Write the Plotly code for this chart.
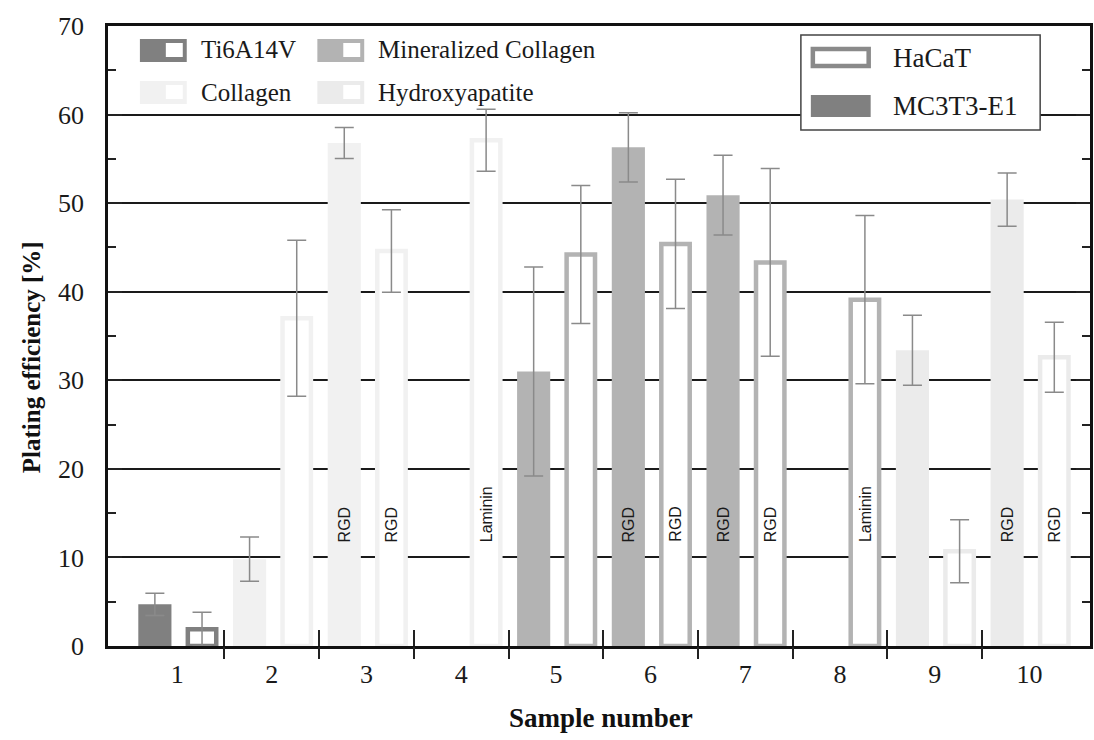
import plotly.graph_objects as go

# ---------------- data ----------------
samples = [1, 2, 3, 4, 5, 6, 7, 8, 9, 10]
sample_labels = ["1", "2", "3", "4", "5", "6", "7", "8", "9", "10"]
materials = ["Ti6A14V", "Collagen", "Collagen", "Collagen",
             "Mineralized Collagen", "Mineralized Collagen",
             "Mineralized Collagen", "Mineralized Collagen",
             "Hydroxyapatite", "Hydroxyapatite"]
mc3t3_values = [4.7, 9.8, 56.8, None, 31.0, 56.3, 50.9, None, 33.4, 50.4]
mc3t3_errors = [1.25, 2.5, 1.75, None, 11.8, 3.9, 4.5, None, 3.95, 3.0]
hacat_values = [1.9, 37.0, 44.6, 57.1, 44.2, 45.4, 43.3, 39.1, 10.7, 32.6]
hacat_errors = [1.9, 8.8, 4.65, 3.5, 7.8, 7.3, 10.6, 9.5, 3.55, 3.95]
mc3t3_tags = ["", "", "RGD", "", "", "RGD", "RGD", "", "", "RGD"]
hacat_tags = ["", "", "RGD", "Laminin", "", "RGD", "RGD", "Laminin", "", "RGD"]
legend_materials = ["Ti6A14V", "Mineralized Collagen", "Collagen", "Hydroxyapatite"]
cell_lines = ["HaCaT", "MC3T3-E1"]
x_title = "Sample number"
y_title = "Plating efficiency [%]"

# ---------------- styles ----------------
material_colors = {"Ti6A14V": "#808080", "Collagen": "#f1f1f1",
                   "Mineralized Collagen": "#b3b3b3", "Hydroxyapatite": "#ebebeb"}
SERIF = "Liberation Serif"
SANS = "Liberation Sans"
ERR_COLOR = "#8a8a8a"
FILL_OFFSET, FILL_WIDTH = -0.41, 0.35
HOLLOW_OFFSET, HOLLOW_WIDTH, HOLLOW_LINE = 0.113, 0.30, 4.5
X_RANGE = [0.27, 10.64]

# plot area in pixels (for legend decoration placement)
W, H = 1094, 740
PL, PR, PT, PB = 108, 1093, 26, 646


def px(xp):
    return (xp - PL) / (PR - PL)


def py(yp):
    return (PB - yp) / (PB - PT)


colors = [material_colors[m] for m in materials]

fig = go.Figure()
fig.add_trace(go.Bar(
    name=cell_lines[1], x=samples, y=mc3t3_values,
    offset=FILL_OFFSET, width=FILL_WIDTH,
    marker=dict(color=colors, line=dict(width=0)),
    error_y=dict(type="data", array=mc3t3_errors, color=ERR_COLOR,
                 thickness=1.5, width=9.5),
    showlegend=False, hoverinfo="x+y"))
fig.add_trace(go.Bar(
    name=cell_lines[0], x=samples, y=hacat_values,
    offset=HOLLOW_OFFSET, width=HOLLOW_WIDTH,
    marker=dict(color="white", line=dict(color=colors, width=HOLLOW_LINE)),
    error_y=dict(type="data", array=hacat_errors, color=ERR_COLOR,
                 thickness=1.5, width=9.5),
    showlegend=False, hoverinfo="x+y"))
# carrier for the outer half of the category-boundary ticks
fig.add_trace(go.Scatter(x=[], y=[], xaxis="x2", yaxis="y",
                         showlegend=False, hoverinfo="skip"))

# tags written inside bars
annotations = []
for s, tag in zip(samples, mc3t3_tags):
    if tag:
        annotations.append(dict(
            x=s + FILL_OFFSET + FILL_WIDTH / 2, y=11.5, xref="x", yref="y",
            text=tag, textangle=-90, showarrow=False,
            xanchor="center", yanchor="bottom",
            font=dict(family=SANS, size=16, color="#1a1a1a")))
for s, tag in zip(samples, hacat_tags):
    if tag:
        annotations.append(dict(
            x=s + HOLLOW_OFFSET + HOLLOW_WIDTH / 2, y=11.5, xref="x", yref="y",
            text=tag, textangle=-90, showarrow=False,
            xanchor="center", yanchor="bottom",
            font=dict(family=SANS, size=16, color="#1a1a1a")))

# axis titles
annotations.append(dict(x=px(603), y=py(718), xref="paper", yref="paper",
                        text="<b>" + x_title + "</b>", showarrow=False,
                        xanchor="center", yanchor="middle",
                        font=dict(family=SERIF, size=27, color="#111111")))
annotations.append(dict(x=px(31), y=py(357), xref="paper", yref="paper",
                        text="<b>" + y_title + "</b>", showarrow=False, textangle=-90,
                        xanchor="center", yanchor="middle",
                        font=dict(family=SERIF, size=25, color="#111111")))

shapes = []
# material legend (top left): half filled / half hollow swatches
mat_slots = [(140, 39), (318, 39), (140, 81), (318, 81)]
for name, (sx, sy) in zip(legend_materials, mat_slots):
    c = material_colors[name]
    shapes.append(dict(type="rect", xref="paper", yref="paper",
                       x0=px(sx), x1=px(sx + 47), y0=py(sy), y1=py(sy + 23),
                       fillcolor=c, line=dict(width=0), layer="above"))
    shapes.append(dict(type="rect", xref="paper", yref="paper",
                       x0=px(sx + 26), x1=px(sx + 43), y0=py(sy + 4), y1=py(sy + 18),
                       fillcolor="white", line=dict(width=0), layer="above"))
    annotations.append(dict(x=px(sx + 59), y=py(sy + 11), xref="paper", yref="paper",
                            text=name, showarrow=False, xanchor="left", yanchor="middle",
                            font=dict(family=SERIF, size=25, color="#1a1a1a")))

# cell line legend (boxed, top right)
shapes.append(dict(type="rect", xref="paper", yref="paper",
                   x0=px(803), x1=px(1043), y0=py(35), y1=py(130),
                   fillcolor="white", line=dict(color="#444444", width=1.5), layer="above"))
shapes.append(dict(type="rect", xref="paper", yref="paper",
                   x0=px(815), x1=px(871), y0=py(49), y1=py(66),
                   fillcolor="white", line=dict(color="#8a8a8a", width=4.5), layer="above"))
shapes.append(dict(type="rect", xref="paper", yref="paper",
                   x0=px(813), x1=px(873), y0=py(95), y1=py(117),
                   fillcolor="#808080", line=dict(width=0), layer="above"))
for name, yc in zip(cell_lines, [58, 106]):
    annotations.append(dict(x=px(893), y=py(yc), xref="paper", yref="paper",
                            text=name, showarrow=False, xanchor="left", yanchor="middle",
                            font=dict(family=SERIF, size=27, color="#1a1a1a")))

bounds = [s + 0.5 for s in samples[:-1]]
minor_y = [v + 5 for v in range(0, 70, 10)]

fig.update_layout(
    width=W, height=H,
    margin=dict(l=PL, r=W - PR, t=PT, b=H - PB),
    paper_bgcolor="white", plot_bgcolor="white",
    barmode="overlay",
    showlegend=False,
    shapes=shapes, annotations=annotations,
    xaxis=dict(
        range=X_RANGE, tickmode="array", tickvals=samples, ticktext=sample_labels,
        ticks="", showline=True, linecolor="#111111", linewidth=2.5, mirror=True,
        showgrid=False, zeroline=False,
        minor=dict(tickmode="array", tickvals=bounds, ticks="inside",
                   ticklen=16, tickwidth=2, tickcolor="#222222", showgrid=False),
        tickfont=dict(family=SERIF, size=26, color="#1a1a1a"),
        ticklabelstandoff=3),
    xaxis2=dict(
        overlaying="x", anchor="y", side="bottom", range=X_RANGE,
        tickmode="array", tickvals=bounds, ticks="outside", ticklen=12,
        tickwidth=2, tickcolor="#222222", showticklabels=False,
        showline=False, showgrid=False, zeroline=False),
    yaxis=dict(
        range=[0, 70], tickmode="array", tickvals=list(range(0, 71, 10)),
        ticks="inside", ticklen=14, tickwidth=2, tickcolor="#222222",
        showline=True, linecolor="#111111", linewidth=2.5, mirror="ticks",
        showgrid=True, gridcolor="#1a1a1a", gridwidth=1.5, zeroline=False,
        minor=dict(tickmode="array", tickvals=minor_y, ticks="inside",
                   ticklen=8, tickwidth=1.5, tickcolor="#222222", showgrid=False),
        tickfont=dict(family=SERIF, size=26, color="#1a1a1a"),
        ticklabelstandoff=16),
)

# the page's default 8px body margin would shift the fixed-size figure
fig.write_html("out.html", config={"displayModeBar": False},
               post_script="document.body.style.margin='0px';")
